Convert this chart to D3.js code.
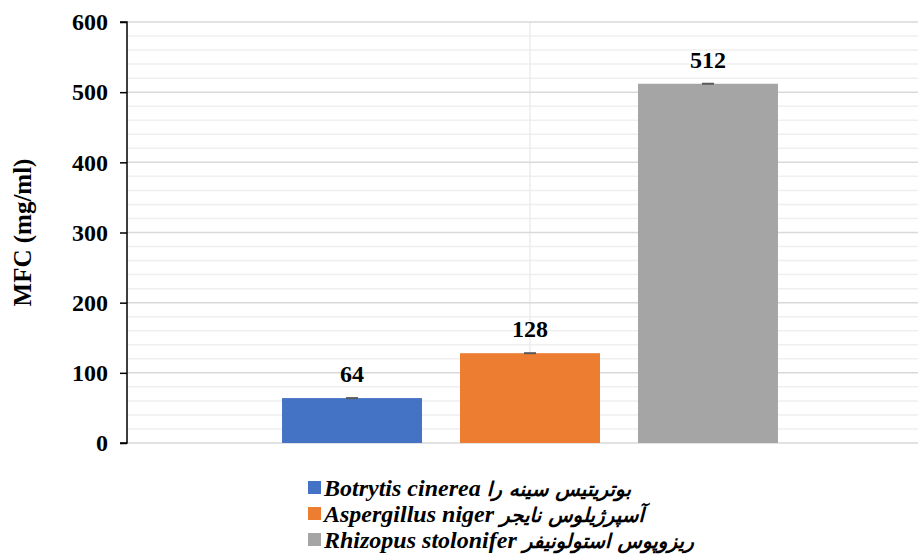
<!DOCTYPE html>
<html>
<head>
<meta charset="utf-8">
<script src="https://cdn.jsdelivr.net/npm/d3@7"></script>
<style>
  body { margin: 0; background: #fff; }
  text { font-family: "Liberation Serif", "Times New Roman", "DejaVu Sans", serif; font-weight: bold; }
</style>
</head>
<body>
<div id="chart"></div>
<script>
/* chart data */
var categories = ["MFC"];
var seriesLatin = ["Botrytis cinerea", "Aspergillus niger", "Rhizopus stolonifer"];
var seriesPersian = ["بوتریتیس سینه را", "آسپرژیلوس نایجر", "ریزوپوس استولونیفر"];
var seriesValues = [64, 128, 512];
var seriesErrors = [0, 0, 0];
var seriesColors = ["#4472C4", "#ED7D31", "#A5A5A5"];
var yTicks = [0, 100, 200, 300, 400, 500, 600];
var yMinorStep = 20;

var W = 918, H = 557;
var margin = {top: 22, left: 127, bottom: 114};
var plotRight = 933;   // plot area runs past the right edge of the picture

var svg = d3.select("#chart").append("svg")
    .attr("width", W)
    .attr("height", H);

var y = d3.scaleLinear()
    .domain([0, 600])
    .range([H - margin.bottom, margin.top]);

var x0 = d3.scaleBand()
    .domain(categories)
    .range([margin.left, plotRight]);

var x1 = d3.scaleBand()
    .domain(seriesLatin)
    .range([0, x0.bandwidth()])
    .paddingInner(0.2135)
    .paddingOuter(0.871);

// minor gridlines
var minor = d3.range(0, 601, yMinorStep).filter(function(v) { return v % 100 !== 0; });
svg.append("g").selectAll("line")
    .data(minor)
    .enter().append("line")
    .attr("x1", margin.left).attr("x2", W)
    .attr("y1", function(d) { return y(d); })
    .attr("y2", function(d) { return y(d); })
    .attr("stroke", "#efefef")
    .attr("stroke-width", 1.5);

// vertical gridline at category centre
svg.append("line")
    .attr("x1", x0("MFC") + x0.bandwidth() / 2)
    .attr("x2", x0("MFC") + x0.bandwidth() / 2)
    .attr("y1", y(600)).attr("y2", y(0))
    .attr("stroke", "#ececec")
    .attr("stroke-width", 1.5);

// major gridlines
svg.append("g").selectAll("line")
    .data(yTicks)
    .enter().append("line")
    .attr("x1", margin.left).attr("x2", W)
    .attr("y1", function(d) { return y(d); })
    .attr("y2", function(d) { return y(d); })
    .attr("stroke", "#d9d9d9")
    .attr("stroke-width", 1.5);

// bars
var cx = x0("MFC");
svg.append("g").selectAll("rect")
    .data(seriesLatin)
    .enter().append("rect")
    .attr("x", function(d) { return cx + x1(d); })
    .attr("width", x1.bandwidth())
    .attr("y", function(d, i) { return y(seriesValues[i]); })
    .attr("height", function(d, i) { return y(0) - y(seriesValues[i]); })
    .attr("fill", function(d, i) { return seriesColors[i]; });

// error bar caps
svg.append("g").selectAll("line")
    .data(seriesLatin)
    .enter().append("line")
    .attr("x1", function(d) { return cx + x1(d) + x1.bandwidth() / 2 - 6; })
    .attr("x2", function(d) { return cx + x1(d) + x1.bandwidth() / 2 + 6; })
    .attr("y1", function(d, i) { return y(seriesValues[i] + seriesErrors[i]); })
    .attr("y2", function(d, i) { return y(seriesValues[i] + seriesErrors[i]); })
    .attr("stroke", "#595959")
    .attr("stroke-width", 2);

// value labels
svg.append("g").selectAll("text")
    .data(seriesLatin)
    .enter().append("text")
    .attr("x", function(d) { return cx + x1(d) + x1.bandwidth() / 2; })
    .attr("y", function(d, i) { return y(seriesValues[i]) - 16; })
    .attr("text-anchor", "middle")
    .attr("font-size", 24)
    .attr("fill", "#000")
    .text(function(d, i) { return seriesValues[i]; });

// y axis
var yAxis = d3.axisLeft(y)
    .tickValues(yTicks)
    .tickSize(7)
    .tickPadding(12);

var gy = svg.append("g")
    .attr("transform", "translate(" + margin.left + ",0)")
    .call(yAxis);
gy.select(".domain").attr("stroke", "#000").attr("stroke-width", 1.5)
    .attr("d", "M-7," + y(600) + "H0V" + y(0) + "H-7");
gy.selectAll(".tick line").attr("stroke", "#000").attr("stroke-width", 1.5);
gy.selectAll(".tick text")
    .attr("font-size", 24)
    .attr("font-family", "'Liberation Serif', serif")
    .attr("font-weight", "bold")
    .attr("fill", "#000");

// y axis title
svg.append("text")
    .attr("transform", "translate(31," + ((y(0) + y(600)) / 2) + ") rotate(-90)")
    .attr("text-anchor", "middle")
    .attr("font-size", 25)
    .attr("fill", "#000")
    .text("MFC (mg/ml)");

// legend
var legend = svg.append("g")
    .attr("transform", "translate(308,480)");

var rows = legend.selectAll("g")
    .data(seriesLatin)
    .enter().append("g")
    .attr("transform", function(d, i) { return "translate(0," + (i * 26) + ")"; });

rows.append("rect")
    .attr("width", 13)
    .attr("height", 13)
    .attr("y", 1)
    .attr("fill", function(d, i) { return seriesColors[i]; });

var lt = rows.append("text")
    .attr("x", 16)
    .attr("y", 16)
    .attr("font-style", "italic")
    .attr("fill", "#000")
    .attr("direction", "ltr");
lt.append("tspan")
    .attr("font-size", 24)
    .text(function(d) { return d + " "; });
lt.append("tspan")
    .attr("font-size", 20)
    .attr("font-family", "'DejaVu Sans', sans-serif")
    .text(function(d, i) { return seriesPersian[i]; });
</script>
</body>
</html>
